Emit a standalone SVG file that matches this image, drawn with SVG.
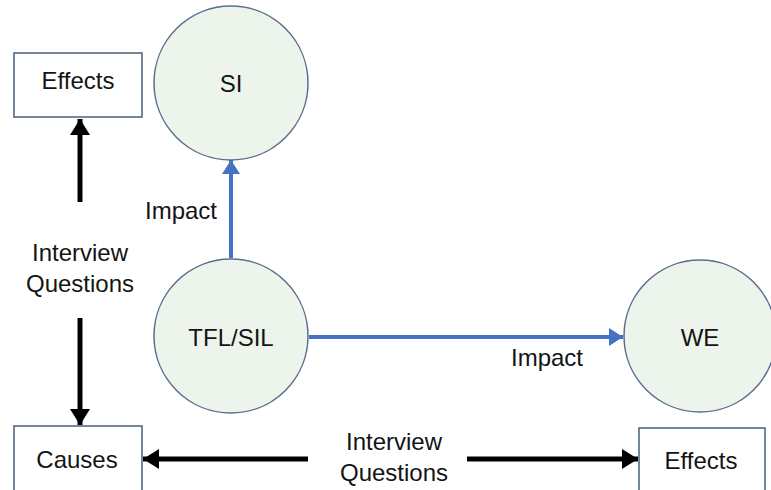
<svg xmlns="http://www.w3.org/2000/svg" width="771" height="490" viewBox="0 0 771 490">
  <style>
    .bg { fill: #ffffff; }
    .box { fill: #ffffff; stroke: #4a5f80; stroke-width: 1.5; }
    .circ { fill: #edf4ec; stroke: #5a6e8e; stroke-width: 1.5; }
    .lbl { font-family: "Liberation Sans", Arial, sans-serif; font-size: 24px; fill: #141414; text-anchor: middle; }
    .blue { stroke: #4472c4; stroke-width: 4; fill: none; }
    .black { stroke: #000000; stroke-width: 5; fill: none; }
  </style>
  <defs>
    <marker id="ahBlue" markerUnits="userSpaceOnUse" markerWidth="16" markerHeight="18" refX="14" refY="9" orient="auto">
      <path d="M0,0 L14,9 L0,18 Z" fill="#4472c4"/>
    </marker>
    <marker id="ahBlack" markerUnits="userSpaceOnUse" markerWidth="18" markerHeight="20" refX="16" refY="10" orient="auto">
      <path d="M0,0 L16,10 L0,20 Z" fill="#000000"/>
    </marker>
  </defs>

  <rect class="bg" x="0" y="0" width="771" height="490"/>

  <!-- connectors and their labels -->
  <g id="connectors">
    <line class="blue" x1="231" y1="258" x2="231" y2="160" marker-end="url(#ahBlue)"/>
    <line class="blue" x1="309" y1="337" x2="623" y2="337" marker-end="url(#ahBlue)"/>
    <line class="black" x1="80" y1="202" x2="80" y2="119" marker-end="url(#ahBlack)"/>
    <line class="black" x1="80" y1="318" x2="80" y2="425" marker-end="url(#ahBlack)"/>
    <line class="black" x1="308" y1="459" x2="143" y2="459" marker-end="url(#ahBlack)"/>
    <line class="black" x1="467" y1="459" x2="638" y2="459" marker-end="url(#ahBlack)"/>
    <text class="lbl" x="181" y="219">Impact</text>
    <text class="lbl" x="547" y="366">Impact</text>
    <text class="lbl" x="80" y="261">Interview</text>
    <text class="lbl" x="80" y="292">Questions</text>
    <text class="lbl" x="394" y="450">Interview</text>
    <text class="lbl" x="394" y="481">Questions</text>
  </g>

  <g id="effects-top">
    <rect class="box" x="14" y="53" width="128" height="64"/>
    <text class="lbl" x="78" y="89">Effects</text>
  </g>

  <g id="si">
    <circle class="circ" cx="231" cy="83" r="77"/>
    <text class="lbl" x="231" y="92">SI</text>
  </g>

  <g id="tfl-sil">
    <circle class="circ" cx="231" cy="336" r="77"/>
    <text class="lbl" x="231" y="346">TFL/SIL</text>
  </g>

  <g id="we">
    <circle class="circ" cx="700" cy="336" r="76"/>
    <text class="lbl" x="700" y="346">WE</text>
  </g>

  <g id="causes">
    <rect class="box" x="14" y="426" width="128" height="70"/>
    <text class="lbl" x="77" y="468">Causes</text>
  </g>

  <g id="effects-bottom">
    <rect class="box" x="639" y="428" width="126" height="70"/>
    <text class="lbl" x="701" y="469">Effects</text>
  </g>
</svg>
